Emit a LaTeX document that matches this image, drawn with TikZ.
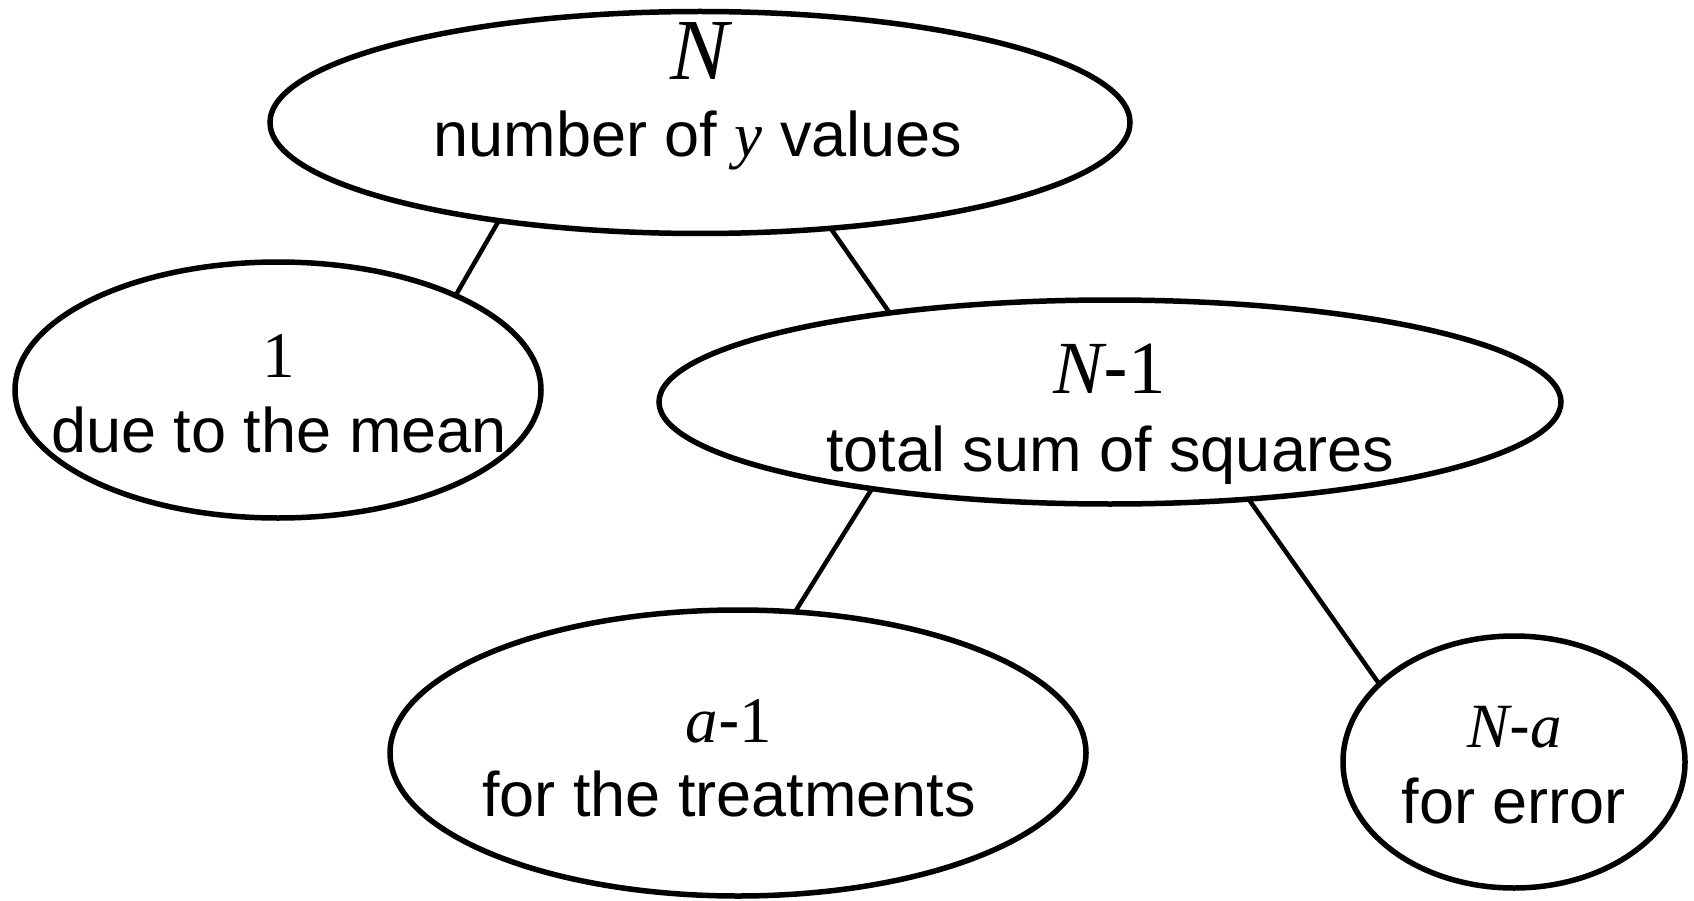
\documentclass[tikz,border=0pt]{standalone}
\usepackage{fontspec}
\setmainfont{Liberation Sans}
\newfontfamily\tms{Liberation Serif}
\usetikzlibrary{shapes.geometric}
\tikzset{
  oval/.style={draw, ellipse, line width=5.5pt, inner sep=0pt, outer sep=0pt},
  link/.style={line width=4.5pt},
  lbl/.style={anchor=base, inner sep=0pt, outer sep=0pt},
  txt/.style={lbl, font=\fontsize{63}{70}\selectfont},
}
\newcommand{\mi}[1]{{\tms\itshape #1}}
\begin{document}
\begin{tikzpicture}[x=1pt,y=-1pt]
\useasboundingbox (0,0) rectangle (1694,901);
% ellipses
\node[oval, minimum width=860pt, minimum height=222pt] (top) at (700,122.5) {};
\node[oval, minimum width=526pt, minimum height=256pt] (mean) at (278,390) {};
\node[oval, minimum width=902pt, minimum height=204pt] (tot) at (1110,402) {};
\node[oval, minimum width=696pt, minimum height=286pt] (trt) at (738,753) {};
\node[oval, minimum width=342pt, minimum height=252pt] (err) at (1514,762) {};
% texts
\node[lbl, font=\fontsize{87}{90}\selectfont] (topA) at (700,80) {\mi{N}};
\node[txt] (topB) at (698,157) {number of \mi{y} values};
\node[lbl, font=\fontsize{65}{70}\selectfont] (meanA) at (279,377) {\tms 1};
\node[txt] (meanB) at (279,452) {due to the mean};
\node[lbl, font=\fontsize{75}{80}\selectfont] (totA) at (1110,393) {\mi{N}-{\tms 1}};
\node[txt] (totB) at (1110,471) {total sum of squares};
\node[lbl, font=\fontsize{65}{70}\selectfont] (trtA) at (729,742) {\mi{a}-{\tms 1}};
\node[txt] (trtB) at (729,816) {for the treatments};
\node[lbl, font=\fontsize{63}{70}\selectfont] (errA) at (1515,747) {\mi{N}-\mi{a}};
\node[txt] (errB) at (1514,823) {for error};
% connectors
\draw[link] (top.206) -- (mean.28);
\draw[link] (top.321) -- (tot.158);
\draw[link] (tot.200) -- (trt.68);
\draw[link] (tot.325) -- (err.150);
\end{tikzpicture}
\end{document}
